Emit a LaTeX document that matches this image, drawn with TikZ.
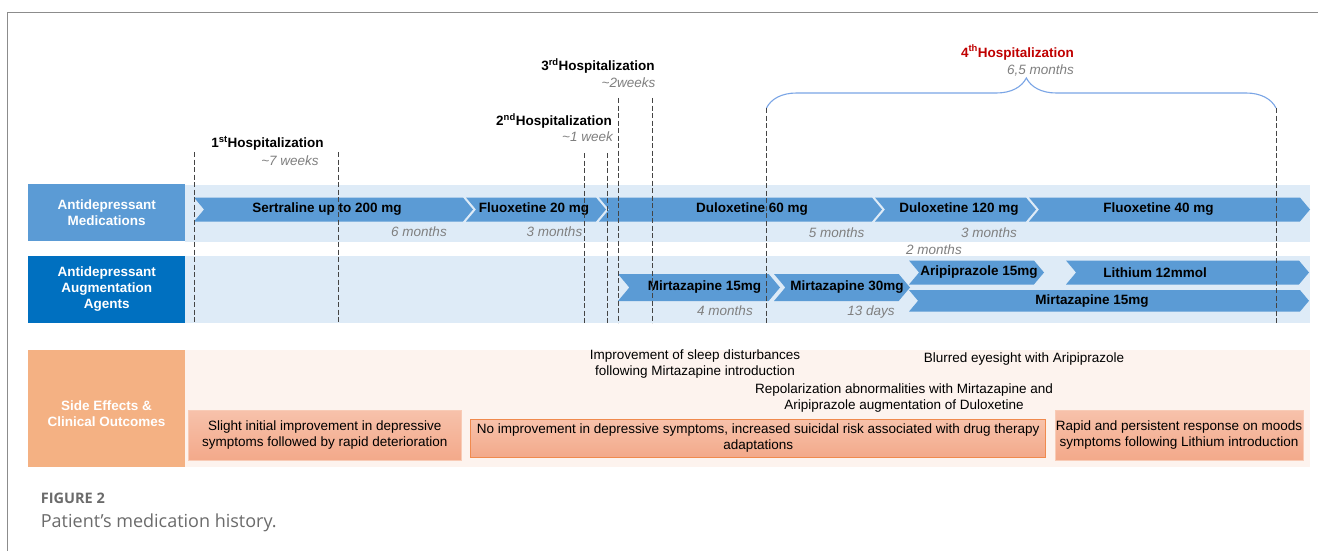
\documentclass[tikz,border=0pt]{standalone}
\usepackage{fontspec}
\setmainfont{Liberation Sans}
\newfontfamily\capfont{Open Sans}
\usepackage{xcolor}
\usetikzlibrary{shapes.symbols,decorations.pathreplacing}

\definecolor{medblue}{HTML}{5B9BD5}
\definecolor{deepblue}{HTML}{0070C0}
\definecolor{bandblue}{HTML}{DEEBF7}
\definecolor{sideorange}{HTML}{F4B183}
\definecolor{bandpeach}{HTML}{FDF3EE}
\definecolor{boxtop}{HTML}{F7C2AB}
\definecolor{boxbot}{HTML}{F3A98A}
\definecolor{boxedge}{HTML}{F8CBB6}
\definecolor{hotedge}{HTML}{F08A4E}
\definecolor{durgray}{HTML}{7F7F7F}
\definecolor{hospred}{HTML}{C00000}
\definecolor{dashgray}{HTML}{444444}
\definecolor{bracecol}{HTML}{7AA5E6}
\definecolor{framegray}{HTML}{8C8C8C}
\definecolor{capgray}{HTML}{6B6B6B}

\begin{document}
\begin{tikzpicture}[x=1pt, y=-1pt,
    font=\fontsize{13.5}{16}\selectfont,
    rowlabel/.style={font=\fontsize{13.5}{16}\selectfont\bfseries, text=white, align=center, inner sep=0pt, anchor=north west},
    band/.style={inner sep=0pt, anchor=north west},
    chev/.style={signal, signal to=east, signal from=west, signal pointer angle=100, fill=medblue, inner sep=0pt},
    chevtxt/.style={font=\fontsize{13.5}{16}\selectfont\bfseries, inner sep=0pt},
    dur/.style={text=durgray, font=\fontsize{13.5}{16}\selectfont\itshape, inner sep=0pt},
    hosp/.style={font=\fontsize{13.5}{16}\selectfont\bfseries, inner sep=0pt},
    hospline/.style={draw=dashgray, line width=0.9pt, dash pattern=on 5pt off 2.5pt},
    outcome/.style={align=center, inner sep=0pt},
    outbox/.style={outcome, top color=boxtop, bottom color=boxbot, draw=boxedge, line width=1pt}
]
\useasboundingbox (0,0) rectangle (1318,551);
\fill[white] (0,0) rectangle (1318,551);

% page frame
\draw[framegray, line width=1.5pt] (7.5,551) -- (7.5,12.5) -- (1318,12.5);

% rows
\node[band, fill=bandblue, minimum width=1125, minimum height=56.5] (medband) at (185,185) {};
\node[band, fill=bandblue, minimum width=1125, minimum height=67] (augband) at (185,256) {};
\node[band, fill=bandpeach, minimum width=1125.5, minimum height=117.4] (sideband) at (184.5,349.3) {};

\node[rowlabel, fill=medblue, minimum width=157, minimum height=57] (medlbl) at (28,184) {Antidepressant\\Medications};
\node[rowlabel, fill=deepblue, minimum width=157, minimum height=67.5] (auglbl) at (28,255.5) {Antidepressant\\Augmentation\\Agents};
\node[rowlabel, fill=sideorange, minimum width=156.5, minimum height=117.4,
      label={[rowlabel, anchor=center, yshift=-5pt]center:{Side Effects \&\\Clinical Outcomes}}] (sidelbl) at (28,349.3) {};

% medication chevrons
\foreach \nm/\cx/\cy/\w/\h/\dx/\txt in {
    sert/333.5/209.5/279/24/-6.5/Sertraline up to 200 mg,
    fluoxa/536/209.5/140/24/-2/Fluoxetine 20 mg,
    duloxa/740.5/209.5/283/24/11.5/Duloxetine 60 mg,
    duloxb/955.5/209.5/161/24/3.5/Duloxetine 120 mg,
    fluoxb/1169.5/209.5/281/24/-11/Fluoxetine 40 mg,
    mirta/699/287.5/162/27/5.6/Mirtazapine 15mg,
    mirtb/842/287.5/136/27/5/Mirtazapine 30mg,
    aripi/976.5/272.5/135/24/2.5/Aripiprazole 15mg,
    lith/1187.5/272.5/243/24/-32.5/Lithium 12mmol,
    mirtc/1109/300.8/400/21.5/-17/Mirtazapine 15mg}
  \node[chev, minimum width=\w, minimum height=\h,
        label={[chevtxt, xshift=\dx pt]center:\txt}] (\nm) at (\cx,\cy) {};

% durations
\node[dur] (dsert) at (419,231.5) {6 months};
\node[dur] (dfluoxa) at (554.5,231.5) {3 months};
\node[dur] (dduloxa) at (836.7,233) {5 months};
\node[dur] (dduloxb) at (989,233) {3 months};
\node[dur] (daripi) at (934,250) {2 months};
\node[dur] (dmirta) at (725,310.7) {4 months};
\node[dur] (dmirtb) at (871,311.7) {13 days};

% side effects and outcomes
\node[outcome] (sleep) at (695,364.5) {Improvement of sleep disturbances\\following Mirtazapine introduction};
\node[outcome] (blur) at (1024,359) {Blurred eyesight with Aripiprazole};
\node[outcome] (repol) at (904,398) {Repolarization abnormalities with Mirtazapine and\\Aripiprazole augmentation of Duloxetine};
\node[outbox, minimum width=272.7, minimum height=50] (slight) at (324.7,435) {Slight initial improvement in depressive\\symptoms followed by rapid deterioration};
\node[outbox, draw=hotedge, minimum width=575, minimum height=38] (noimp) at (758.2,438) {No improvement in depressive symptoms, increased suicidal risk associated with drug therapy\\adaptations};
\node[outbox, minimum width=248, minimum height=50] (rapid) at (1179,435) {Rapid and persistent response on moods\\symptoms following Lithium introduction};

% hospitalizations
\node[hosp] (hospa) at (267.5,143) {1\textsuperscript{st}Hospitalization};
\node[dur] (hospad) at (290,161) {\textasciitilde7 weeks};
\node[hosp] (hospb) at (554,121) {2\textsuperscript{nd}Hospitalization};
\node[dur] (hospbd) at (587.5,137) {\textasciitilde1 week};
\node[hosp] (hospc) at (598,66) {3\textsuperscript{rd}Hospitalization};
\node[dur] (hospcd) at (628.5,83) {\textasciitilde2weeks};
\node[hosp, text=hospred] (hospd) at (1017.5,52.5) {4\textsuperscript{th}Hospitalization};
\node[dur] (hospdd) at (1040.5,70) {6,5 months};

\draw[bracecol, line width=1.1pt, decorate, decoration={brace, amplitude=30pt, aspect=0.51}] (766.5,108) -- (1276,108);

\foreach \x/\ytop in {194/152, 338/152, 584/153, 607/153, 618/98, 652/98, 766.5/108, 1276/108}
  \draw[hospline] (\x,\ytop) -- (\x,323);

% caption
\node[anchor=base west, inner sep=0pt, text=capgray, font=\capfont\fontsize{14.5}{17}\selectfont\bfseries] (figno) at (40.7,503) {FIGURE 2};
\node[anchor=base west, inner sep=0pt, text=capgray, font=\capfont\fontsize{18}{21}\selectfont] (figcap) at (40.7,527.5) {Patient’s medication history.};

\end{tikzpicture}
\end{document}
